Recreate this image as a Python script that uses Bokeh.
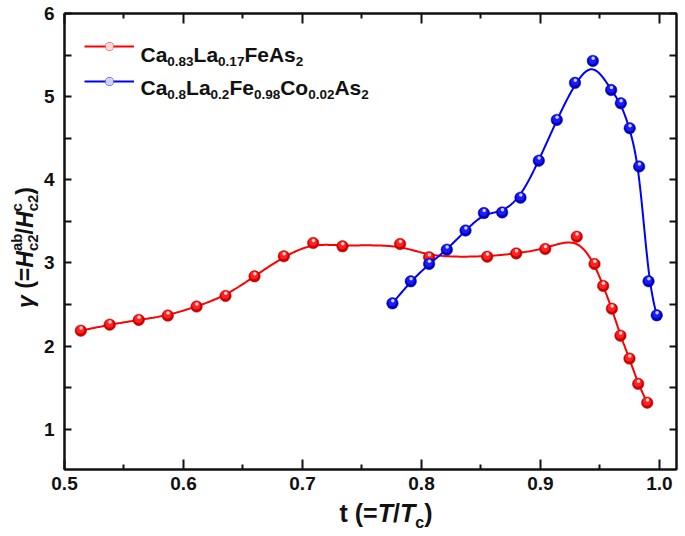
import numpy as np
from bokeh.plotting import figure
from bokeh.layouts import row, column
from bokeh.models import (Range1d, LinearAxis, FixedTicker, Label, Legend,
                          LegendItem, PrintfTickFormatter, Div, CustomLabelingPolicy)
from bokeh.embed import file_html
from bokeh.resources import INLINE

# ---------------- data ----------------
t_ca083 = [0.5137, 0.538, 0.5624, 0.5868, 0.611, 0.6353, 0.6597, 0.6843, 0.709,
           0.7336, 0.782, 0.8064, 0.8552, 0.8796, 0.904, 0.9305, 0.9454, 0.9527,
           0.960, 0.9672, 0.9748, 0.9821, 0.9897]
g_ca083 = [2.186, 2.258, 2.315, 2.367, 2.476, 2.603, 2.839, 3.08, 3.24,
           3.20, 3.228, 3.068, 3.076, 3.115, 3.168, 3.316, 2.988, 2.724,
           2.45, 2.126, 1.85, 1.546, 1.32]
t_co = [0.7756, 0.791, 0.8064, 0.8213, 0.837, 0.8524, 0.8678, 0.8832, 0.8986,
        0.9137, 0.929, 0.944, 0.9594, 0.9675, 0.975, 0.9829, 0.9908, 0.9977]
g_co = [2.514, 2.779, 2.988, 3.16, 3.39, 3.60, 3.608, 3.785, 4.23,
        4.72, 5.166, 5.43, 5.08, 4.92, 4.62, 4.16, 2.78, 2.37]

x_ticks = [0.5, 0.6, 0.7, 0.8, 0.9, 1.0]
x_minor = [0.55, 0.65, 0.75, 0.85, 0.95]
y_ticks = [1, 2, 3, 4, 5, 6]
y_minor = [1.5, 2.5, 3.5, 4.5, 5.5]

X0, X1 = 0.5, 1.0143
Y0, Y1 = 0.516, 6.0
FW, FH = 612, 456
YDIV_W = 40
FL, FT = 62, 13          # frame left / top in page px
FB = FT + FH             # frame bottom (page px)
BOT = 30                 # figure border below frame
FIG_H = FT + FH + BOT
FONT = "Liberation Sans"
INK = "#111111"

def bspline(xs, ys, n=24):
    P = np.column_stack([xs, ys]).astype(float)
    P = np.vstack([P[0], P[0], P, P[-1], P[-1]])
    t = np.linspace(0, 1, n, endpoint=False)
    b0 = (1 - t) ** 3 / 6
    b1 = (3 * t ** 3 - 6 * t ** 2 + 4) / 6
    b2 = (-3 * t ** 3 + 3 * t ** 2 + 3 * t + 1) / 6
    b3 = t ** 3 / 6
    segs = []
    for i in range(len(P) - 3):
        segs.append(b0[:, None] * P[i] + b1[:, None] * P[i + 1]
                    + b2[:, None] * P[i + 2] + b3[:, None] * P[i + 3])
    segs.append(P[-1][None, :])
    c = np.vstack(segs)
    return c[:, 0], c[:, 1]

p = figure(frame_width=FW, frame_height=FH,
           x_range=Range1d(X0, X1), y_range=Range1d(Y0, Y1),
           output_backend="svg", toolbar_location=None,
           min_border_left=FL - YDIV_W, min_border_right=9, min_border_top=FT,
           min_border_bottom=BOT, margin=0)
p.grid.visible = False
p.outline_line_color = INK
p.outline_line_width = 2
p.background_fill_color = "white"
p.border_fill_color = "white"

NO_LABELS = CustomLabelingPolicy(code="""
try { for (const i of Array.from(indices)) { indices.unset(i) } } catch (e) {}
return indices
""")

def style_axis(ax, ticks, minor, labels, major_in, minor_in, fmt):
    ax.ticker = FixedTicker(ticks=ticks, minor_ticks=minor)
    ax.formatter = PrintfTickFormatter(format=fmt)
    ax.axis_line_width = 2
    ax.axis_line_color = INK
    ax.major_tick_in = major_in
    ax.major_tick_out = 0
    ax.minor_tick_in = minor_in
    ax.minor_tick_out = 0
    ax.major_tick_line_width = 2
    ax.minor_tick_line_width = 2
    ax.major_tick_line_color = INK
    ax.minor_tick_line_color = INK
    ax.major_label_text_font = FONT
    ax.major_label_text_font_style = "bold"
    ax.major_label_text_color = INK
    ax.axis_label = None
    if labels:
        ax.major_label_text_font_size = "19px"
    else:
        ax.major_label_text_font_size = "0px"
        ax.major_label_standoff = 0
        ax.major_label_policy = NO_LABELS

xb = p.xaxis[0]
yl = p.yaxis[0]
style_axis(xb, x_ticks, x_minor, True, 10, 5, "%.1f")
xb.major_label_standoff = 7
style_axis(yl, y_ticks, y_minor, True, 7, 7, "%d")
yl.major_label_standoff = 10
xt = LinearAxis()
style_axis(xt, x_ticks, x_minor, False, 10, 5, "%.1f")
p.add_layout(xt, "above")
yr = LinearAxis()
style_axis(yr, y_ticks, y_minor, False, 7, 7, "%d")
p.add_layout(yr, "right")

# --------------- curves and sphere markers ---------------
dy_px = (Y1 - Y0) / FH
dx_px = (X1 - X0) / FW

def series(xs, ys, line_col, dark, mid, hi):
    cx, cy = bspline(xs, ys)
    ln = p.line(cx, cy, line_color=line_col, line_width=2)
    xs_a = np.array(xs, float)
    ys_a = np.array(ys, float)
    b = p.scatter(xs_a, ys_a, size=11.5, fill_color=dark, line_color=dark, line_width=0.5)
    m = p.scatter(xs_a - 0.3 * dx_px, ys_a + 1.0 * dy_px, size=8, fill_color=mid, line_alpha=0)
    h = p.scatter(xs_a + 0.3 * dx_px, ys_a + 2.6 * dy_px, size=3.5, fill_color=hi, line_alpha=0)
    return [ln, b, m, h]

r_red = series(t_ca083, g_ca083, "#ff0000", "#cc0000", "#ff2222", "#ffd6d6")
r_blue = series(t_co, g_co, "#0000ff", "#0000b8", "#1a1aff", "#d0d0ff")

leg = Legend(items=[LegendItem(label=" ", renderers=r_red),
                    LegendItem(label=" ", renderers=r_blue)],
             location=(20, 378), glyph_width=50, glyph_height=20,
             label_height=20, spacing=15, padding=0, margin=0,
             label_standoff=0, label_text_font_size="1px",
             border_line_alpha=0, background_fill_alpha=0)
p.add_layout(leg)

# --------------- legend rich text (inside the frame) ---------------
W = {' ': 278, '(': 333, ')': 333, '=': 584, '/': 278, '.': 278, 'a': 556,
     'b': 611, 'c': 556, 'e': 556, 's': 556, 'o': 611, 't': 333, 'A': 722,
     'C': 722, 'F': 611, 'H': 722, 'L': 611, 'T': 611}
for d in "0123456789":
    W[d] = 556

def tw(s, size):
    return sum(W.get(ch, 556) for ch in s) * size / 1000.0

def put(text, px, py, size, style):
    p.add_layout(Label(x=px - FL, y=FB - py, x_units="screen", y_units="screen",
                       text=text, text_font=FONT, text_font_size=f"{size}px",
                       text_font_style=style, text_color=INK,
                       text_baseline="alphabetic", text_align="left"))

def rich_h(pieces, x, base):
    for txt, size, style, shift in pieces:
        put(txt, x, base - shift, size, style)
        x += tw(txt, size)

BIG, SUB = 21, 13.5
legend_1 = [("Ca", 0), ("0.83", -7), ("La", 0), ("0.17", -7), ("FeAs", 0), ("2", -7)]
legend_2 = [("Ca", 0), ("0.8", -7), ("La", 0), ("0.2", -7), ("Fe", 0), ("0.98", -7),
            ("Co", 0), ("0.02", -7), ("As", 0), ("2", -7)]
rich_h([(t, BIG if s == 0 else SUB, "bold", s) for t, s in legend_1], 138, 54)
rich_h([(t, BIG if s == 0 else SUB, "bold", s) for t, s in legend_2], 138, 87)

# --------------- axis titles as HTML (rich text) ---------------
FONT_CSS = "font-family:'Liberation Sans',Arial,sans-serif;font-weight:bold;color:#111;line-height:1;white-space:nowrap;"

def sup(t, sz, dy, ml=0):
    return (f'<span style="font-size:{sz}px;position:relative;top:{dy}px;'
            f'margin-left:{ml}px;">{t}</span>')

YS, YSS = 23, 15
ylab_inner = ('<i>γ</i> (=<i>H</i>' + sup("ab", YSS, -11) + sup("c2", YSS, 5, -17.5)
              + '/<i>H</i>' + sup("c", YSS, -11) + sup("c2", YSS, 5, -8.3) + ')')
base_x, y_start = 33, 308
ylab_html = (f'<div style="position:relative;width:{YDIV_W}px;height:{FIG_H}px;">'
             f'<div style="position:absolute;left:{base_x - 0.847 * YS:.1f}px;top:{y_start}px;'
             f'transform:rotate(-90deg);transform-origin:0 0;font-size:{YS}px;{FONT_CSS}">'
             f'{ylab_inner}</div></div>')
ydiv = Div(text=ylab_html, width=YDIV_W, height=FIG_H, margin=0)

XS, XSS = 25, 16
XDIV_H = 534 - FIG_H
xlab_inner = 't (=<i>T</i>/<i>T</i>' + sup("c", XSS, 6) + ')'
x_center, x_base = 386, 522
xlab_html = (f'<div style="position:relative;width:{FL + FW + 9}px;height:{XDIV_H}px;">'
             f'<div style="position:absolute;left:0;width:{2 * x_center}px;text-align:center;'
             f'top:{x_base - FIG_H - 0.847 * XS:.1f}px;font-size:{XS}px;{FONT_CSS}">'
             f'{xlab_inner}</div></div>')
xdiv = Div(text=xlab_html, width=FL + FW + 9, height=XDIV_H, margin=0)

layout = column(row(ydiv, p, spacing=0, margin=0), xdiv, spacing=0, margin=0)
open("out.html", "w").write(file_html(layout, INLINE))
